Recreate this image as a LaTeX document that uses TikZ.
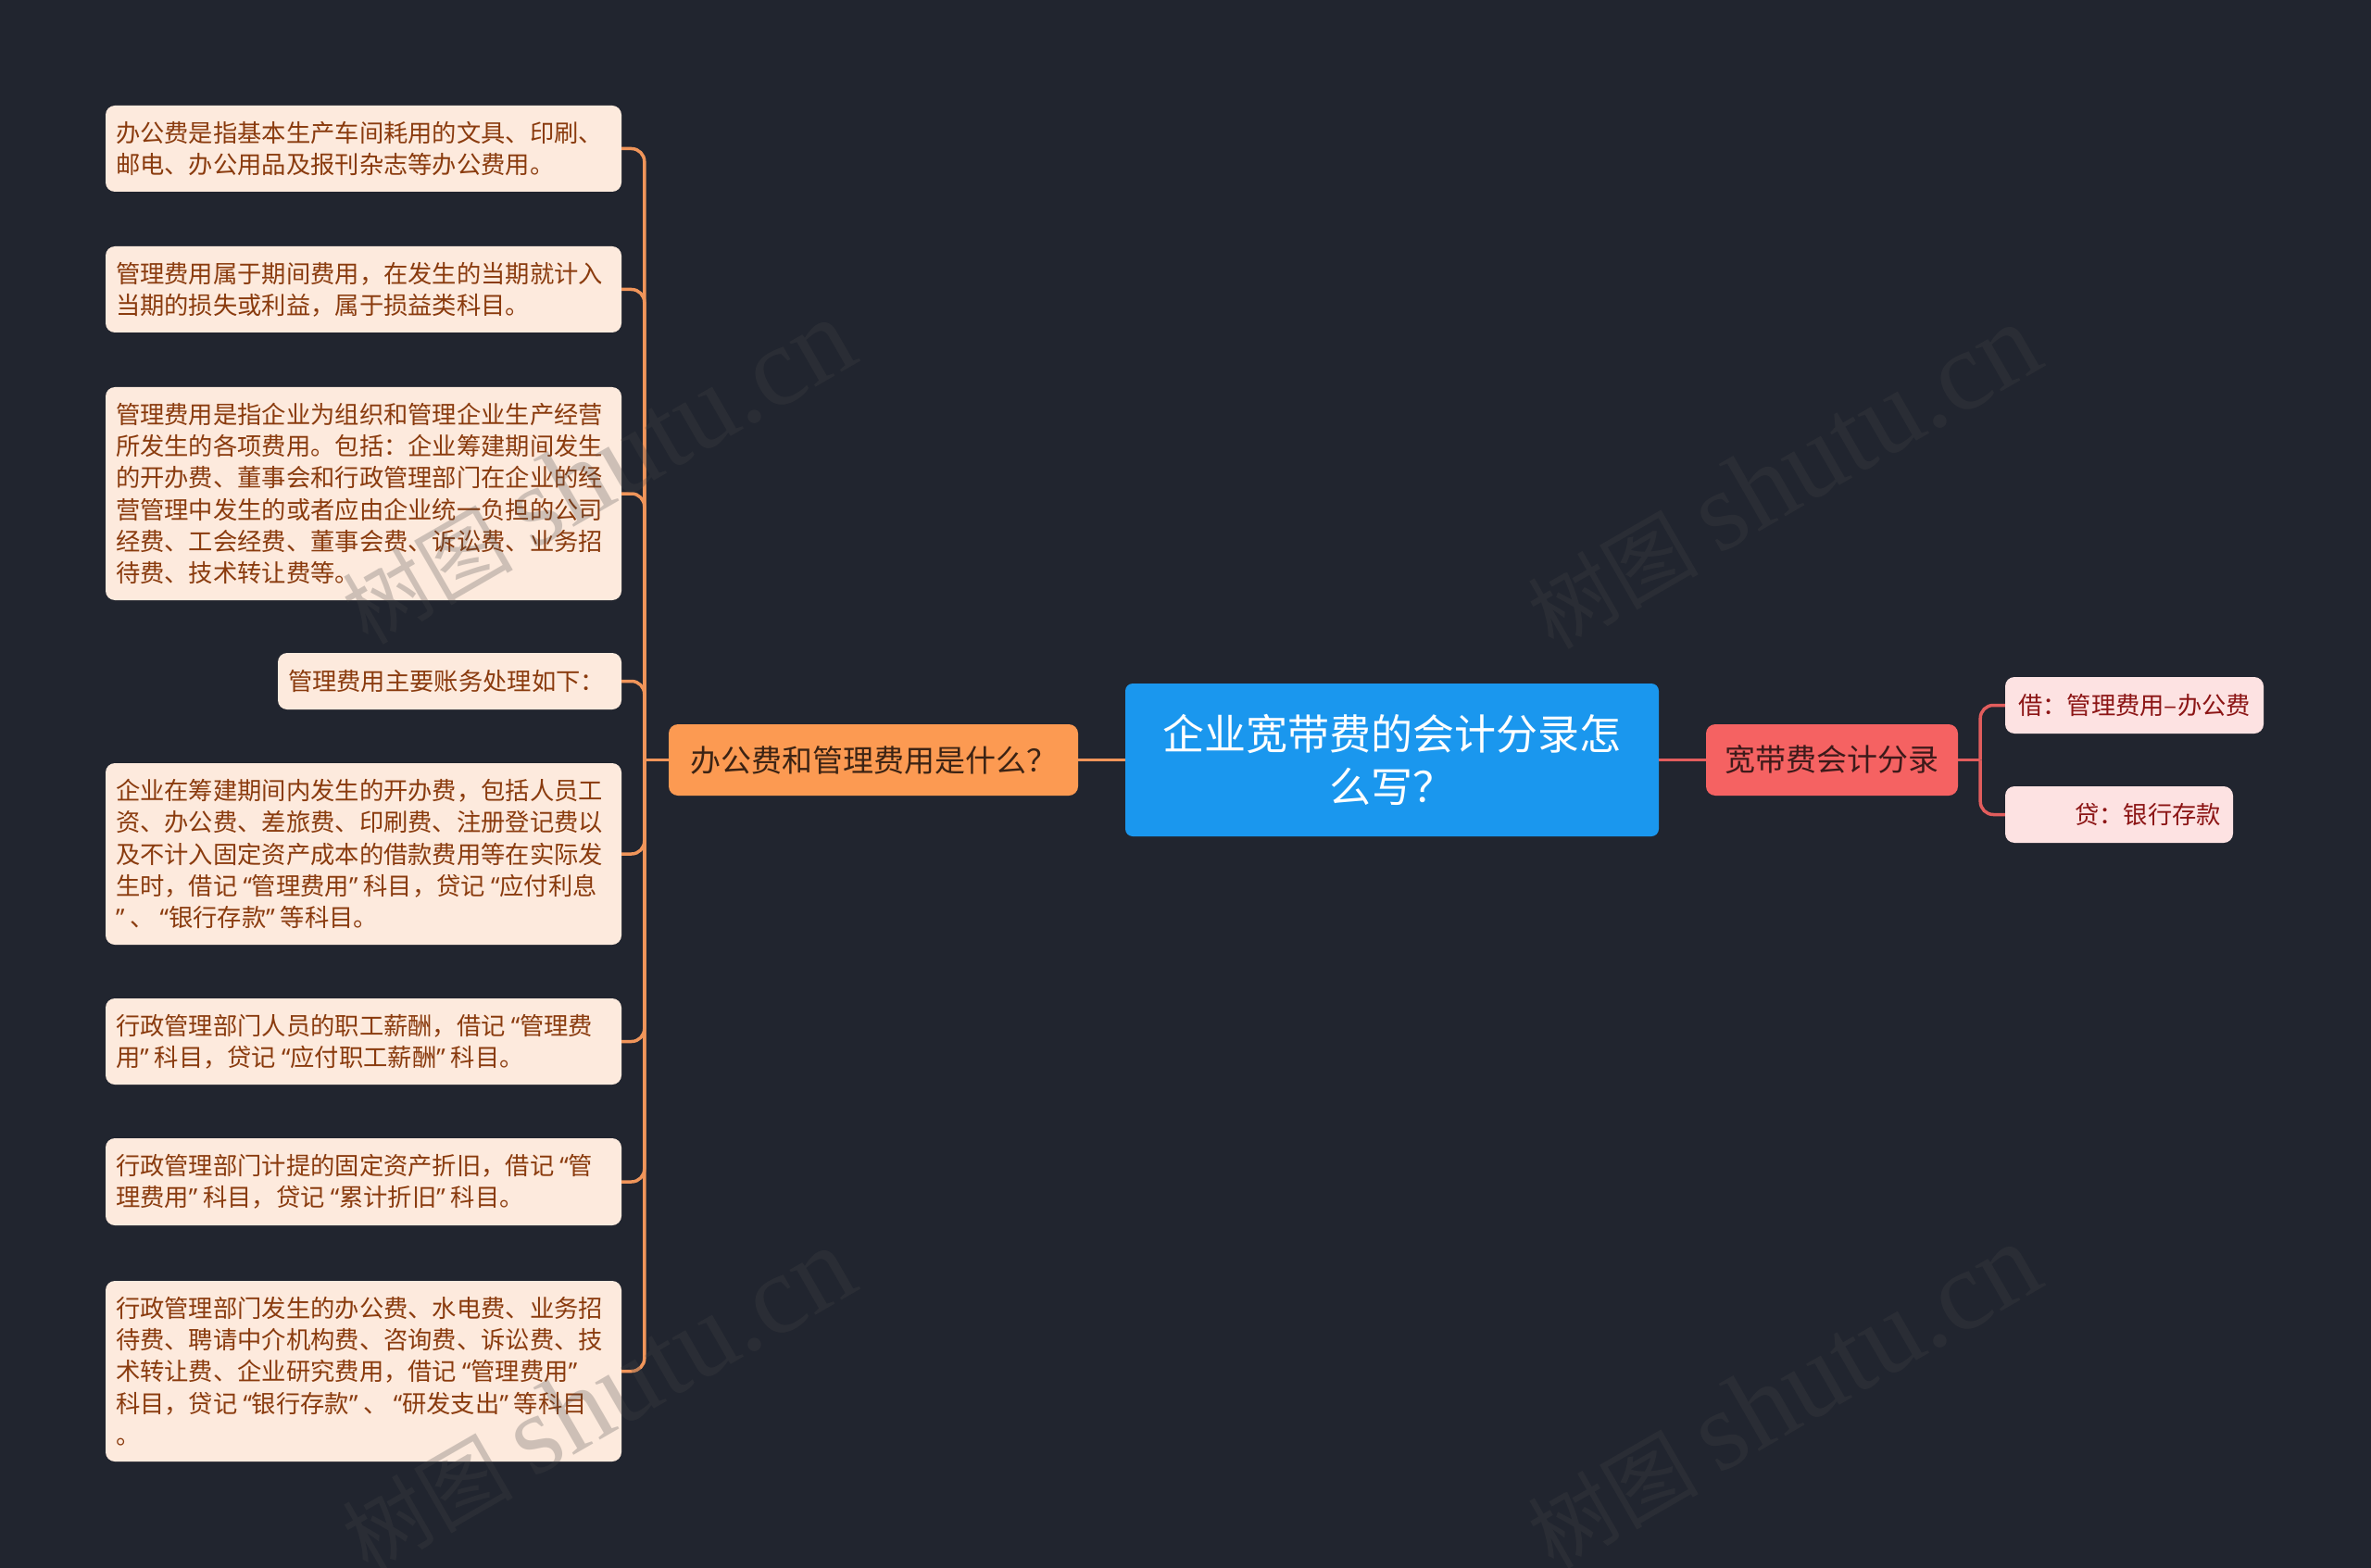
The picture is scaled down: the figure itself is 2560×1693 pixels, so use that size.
\documentclass[tikz,border=0pt]{standalone}
\usepackage{fontspec}
\setmainfont{Noto Sans CJK SC}
\newfontfamily\wmserif{Liberation Serif}
\newfontfamily\qfont{Noto Sans}
\newcommand\oq{\hspace{6pt}{\qfont “}}
\newcommand\cq{{\qfont ”}\hspace{6pt}}
\usetikzlibrary{calc}
\definecolor{bgc}{HTML}{21252F}
\definecolor{leaffill}{HTML}{FDEADD}
\definecolor{leaftext}{HTML}{8A3B0E}
\definecolor{qfill}{HTML}{FC9A52}
\definecolor{qtext}{HTML}{3B2314}
\definecolor{rootfill}{HTML}{1A97EE}
\definecolor{redfill}{HTML}{F56262}
\definecolor{redtext}{HTML}{3D1A1A}
\definecolor{rfill}{HTML}{FDE2E2}
\definecolor{rtext}{HTML}{8C1515}
\definecolor{olinec}{HTML}{F0955A}
\definecolor{rlinec}{HTML}{E25D5D}
\definecolor{wmc}{HTML}{474747}
\tikzset{
  leafbox/.style={fill=leaffill, text=leaftext, rounded corners=10pt,
    font=\fontsize{26.3}{34.3}\selectfont, align=left, inner xsep=11pt, inner ysep=0pt,
    text width=535pt},
  rleaf/.style={fill=rfill, text=rtext, rounded corners=10pt,
    font=\fontsize{26.3}{34.3}\selectfont, inner sep=0pt, minimum height=61pt},
  oline/.style={draw=olinec, line width=3.5pt},
  rline/.style={draw=rlinec, line width=3.5pt},
  wmark/.style={rotate=30, text=wmc, text opacity=0.26, inner sep=0pt}
}
\begin{document}
\begin{tikzpicture}[x=1pt,y=-1pt]
\fill[bgc] (0,0) rectangle (2560,1693);
\useasboundingbox (0,0) rectangle (2560,1693);

% left leaves
\node[leafbox, minimum height=93pt] (l1) at (392.5,160.5) {办公费是指基本生产车间耗用的文具、印刷、\\邮电、办公用品及报刊杂志等办公费用。};
\node[leafbox, minimum height=93pt] (l2) at (392.5,312.5) {管理费用属于期间费用，在发生的当期就计入\\当期的损失或利益，属于损益类科目。};
\node[leafbox, minimum height=230pt] (l3) at (392.5,533) {管理费用是指企业为组织和管理企业生产经营\\所发生的各项费用。包括：企业筹建期间发生\\的开办费、董事会和行政管理部门在企业的经\\营管理中发生的或者应由企业统一负担的公司\\经费、工会经费、董事会费、诉讼费、业务招\\待费、技术转让费等。};
\node[leafbox, text width=349pt, minimum height=61pt] (l4) at (485.5,735.5) {管理费用主要账务处理如下：};
\node[leafbox, minimum height=196pt] (l5) at (392.5,922) {企业在筹建期间内发生的开办费，包括人员工\\资、办公费、差旅费、印刷费、注册登记费以\\及不计入固定资产成本的借款费用等在实际发\\生时，借记\oq 管理费用\cq 科目，贷记\oq 应付利息\\{\qfont ”}\hspace{6pt}、\oq 银行存款\cq 等科目。};
\node[leafbox, minimum height=93pt] (l6) at (392.5,1124.5) {行政管理部门人员的职工薪酬，借记\oq 管理费\\用\cq 科目，贷记\oq 应付职工薪酬\cq 科目。};
\node[leafbox, minimum height=94pt] (l7) at (392.5,1276) {行政管理部门计提的固定资产折旧，借记\oq 管\\理费用\cq 科目，贷记\oq 累计折旧\cq 科目。};
\node[leafbox, minimum height=195pt] (l8) at (392.5,1480.5) {行政管理部门发生的办公费、水电费、业务招\\待费、聘请中介机构费、咨询费、诉讼费、技\\术转让费、企业研究费用，借记\oq 管理费用{\qfont ”}\\科目，贷记\oq 银行存款\cq 、\oq 研发支出\cq 等科目\\。};

% main branch nodes
\node[fill=qfill, text=qtext, rounded corners=10pt, minimum width=442pt, minimum height=77pt,
  inner sep=0pt, font=\fontsize{33}{40}\selectfont] (q) at (943,820.5) {办公费和管理费用是什么？};
\node[fill=rootfill, text=white, rounded corners=8pt, minimum width=576pt, minimum height=165pt,
  inner sep=0pt, align=center, font=\fontsize{45}{57}\selectfont] (root) at (1503,820.5) {企业宽带费的会计分录怎\\么写？};
\node[fill=redfill, text=redtext, rounded corners=10pt, minimum width=272pt, minimum height=77pt,
  inner sep=0pt, font=\fontsize{33}{40}\selectfont] (red) at (1978,820.5) {宽带费会计分录};

% right leaves
\node[rleaf, minimum width=279pt] (r1) at (2304.5,761.5) {借：管理费用–办公费};
\node[rleaf, align=right, text width=220pt, inner xsep=13pt] (r2) at (2288,879.5) {贷：银行存款};

% connectors
\coordinate (sp) at ($(q.west)+(-26,0)$);
\draw[oline] (q.west) -- (sp);
\foreach \n in {l1,l2,l3,l4,l5,l6,l7,l8}
  \draw[oline, rounded corners=14pt] (sp) |- (\n.east);
\draw[oline] (root.west) -- (q.east);
\coordinate (rp) at ($(red.east)+(24,0)$);
\draw[rline] (root.east) -- (red.west);
\draw[rline] (red.east) -- (rp);
\draw[rline, rounded corners=14pt] (rp) |- (r1.west);
\draw[rline, rounded corners=14pt] (rp) |- (r2.west);

% watermarks
\node[wmark] (wm1) at (645,510) {{\fontsize{92}{92}\selectfont 树图}\hspace{22pt}{\wmserif\fontsize{122}{122}\selectfont shutu.cn}};
\node[wmark] (wm2) at (1925,515) {{\fontsize{92}{92}\selectfont 树图}\hspace{22pt}{\wmserif\fontsize{122}{122}\selectfont shutu.cn}};
\node[wmark] (wm3) at (645,1512) {{\fontsize{92}{92}\selectfont 树图}\hspace{22pt}{\wmserif\fontsize{122}{122}\selectfont shutu.cn}};
\node[wmark] (wm4) at (1925,1508) {{\fontsize{92}{92}\selectfont 树图}\hspace{22pt}{\wmserif\fontsize{122}{122}\selectfont shutu.cn}};
\end{tikzpicture}
\end{document}
